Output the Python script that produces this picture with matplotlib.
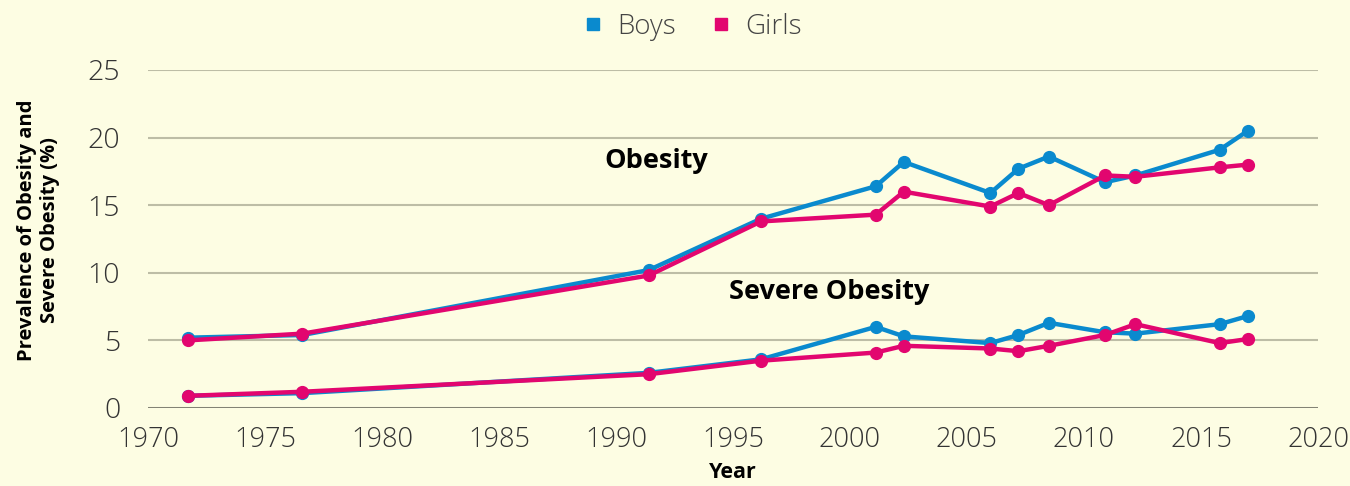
import matplotlib.pyplot as plt
from matplotlib.lines import Line2D

years = [1971.7, 1976.6, 1991.4, 1996.2, 2001.1, 2002.3, 2006.0,
         2007.2, 2008.5, 2010.9, 2012.2, 2015.8, 2017.0]

boys_obesity = [5.2, 5.4, 10.2, 14.0, 16.4, 18.2, 15.9, 17.7, 18.6, 16.7, 17.2, 19.1, 20.5]
girls_obesity = [5.0, 5.5, 9.8, 13.8, 14.3, 16.0, 14.9, 15.9, 15.0, 17.2, 17.1, 17.8, 18.0]
boys_severe = [0.9, 1.1, 2.6, 3.6, 6.0, 5.3, 4.8, 5.4, 6.3, 5.6, 5.5, 6.2, 6.8]
girls_severe = [0.9, 1.2, 2.5, 3.5, 4.1, 4.6, 4.4, 4.2, 4.6, 5.4, 6.2, 4.8, 5.1]

x_ticks = list(range(1970, 2021, 5))
y_ticks = [0, 5, 10, 15, 20, 25]

bg = '#fdfde3'
blue = '#0a8ace'
pink = '#e2066f'

plt.rcParams['font.family'] = ['Open Sans', 'DejaVu Sans']

fig = plt.figure(figsize=(13.5, 4.86), dpi=100, facecolor=bg)
ax = fig.add_axes([0.1096, 0.1605, 0.8667, 0.6955])
ax.set_facecolor(bg)

style = dict(lw=3.2, marker='o', ms=8.5, solid_capstyle='round')
ax.plot(years, boys_obesity, color=blue, **style)
ax.plot(years, boys_severe, color=blue, **style)
ax.plot(years, girls_obesity, color=pink, **style)
ax.plot(years, girls_severe, color=pink, **style)

ax.set_xlim(1970, 2020)
ax.set_ylim(0, 25)
ax.set_xticks(x_ticks)
ax.set_yticks(y_ticks)
ax.tick_params(length=0, labelsize=20.5, labelcolor='#333333')
ax.tick_params(axis='x', pad=13, labelsize=19.5)
ax.tick_params(axis='y', pad=20)
for lab in ax.get_xticklabels() + ax.get_yticklabels():
    lab.set_fontweight('light')

ax.grid(axis='y', color='#bdbda6', lw=1.5)
ax.set_axisbelow(True)
ax.axhline(0, color='#7d7d70', lw=2, zorder=1)
for s in ax.spines.values():
    s.set_visible(False)

ax.text(1991.7, 18.3, 'Obesity', fontsize=19.5, fontweight='bold',
        ha='center', va='center')
ax.text(1999.1, 8.6, 'Severe Obesity', fontsize=19.5, fontweight='bold',
        ha='center', va='center')

ax.set_xlabel('Year', fontsize=15.5, fontweight='bold', labelpad=6)
ax.set_ylabel('Prevalence of Obesity and\nSevere Obesity (%)', fontsize=14.5,
              fontweight='bold', linespacing=1.2)
ax.yaxis.set_label_coords(-0.0755, 0.527)

handles = [Line2D([], [], ls='none', marker='s', ms=9, color=blue),
           Line2D([], [], ls='none', marker='s', ms=9, color=pink)]
leg = fig.legend(handles, ['Boys', 'Girls'], loc='center', bbox_to_anchor=(0.5115, 0.944),
                 ncol=2, frameon=False, fontsize=20, handletextpad=0.35,
                 columnspacing=1.15, handlelength=1.0)
for t in leg.get_texts():
    t.set_color('#444444')
    t.set_fontweight('light')

fig.savefig('out.png', dpi=100, facecolor=bg)
